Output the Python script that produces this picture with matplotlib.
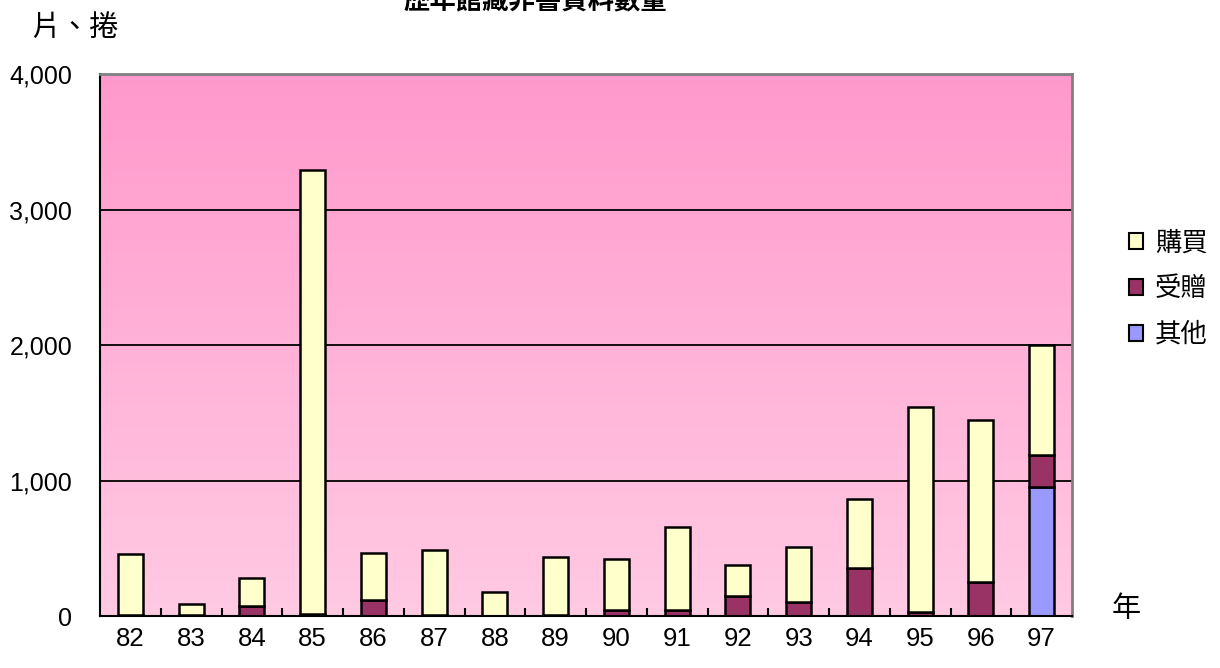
import numpy as np
import matplotlib.pyplot as plt
from matplotlib.colors import LinearSegmentedColormap
from matplotlib.patches import Patch

plt.rcParams['font.family'] = ['Liberation Sans', 'Noto Sans CJK TC', 'DejaVu Sans']

# 資料
years = ['82', '83', '84', '85', '86', '87', '88', '89',
         '90', '91', '92', '93', '94', '95', '96', '97']
totals = [460, 90, 280, 3290, 465, 490, 180, 435,
          420, 660, 375, 510, 865, 1545, 1445, 2000]
gifts = [10, 5, 75, 15, 115, 10, 0, 10,
         45, 45, 145, 100, 355, 30, 250, 240]
others = [0, 0, 0, 0, 0, 0, 0, 0,
          0, 0, 0, 0, 0, 0, 0, 950]
purchase = [t - g - o for t, g, o in zip(totals, gifts, others)]

fig = plt.figure(figsize=(12.2, 6.68), dpi=100)
ax = fig.add_axes([100 / 1220, 1 - 616 / 668, 972 / 1220, 542 / 668])

x = np.arange(len(years))
ax.set_xlim(-0.5, len(years) - 0.5)
ax.set_ylim(0, 4000)

# 背景漸層
cmap = LinearSegmentedColormap.from_list('bg', ['#FFCAE3', '#FF99CC'])
grad = np.linspace(0, 1, 256).reshape(-1, 1)
ax.imshow(grad, cmap=cmap, aspect='auto', origin='lower',
          extent=[-0.5, len(years) - 0.5, 0, 4000], zorder=0)

for y in [1000, 2000, 3000]:
    ax.axhline(y, color='black', lw=1.3, zorder=1)

w = 0.41
kw = dict(width=w, edgecolor='black', linewidth=1.8, zorder=2)
ax.bar(x, others, color='#9999FF', **kw)
ax.bar(x, gifts, bottom=others, color='#993366', **kw)
bottoms = [g + o for g, o in zip(gifts, others)]
ax.bar(x, purchase, bottom=bottoms, color='#FFFFCC', **kw)

# 軸
ax.spines['left'].set_color('black')
ax.spines['left'].set_linewidth(1.5)
ax.spines['bottom'].set_color('black')
ax.spines['bottom'].set_linewidth(1.5)
ax.spines['top'].set_color('#808080')
ax.spines['top'].set_linewidth(2)
ax.spines['right'].set_color('#808080')
ax.spines['right'].set_linewidth(2)

ax.set_xticks(x)
ax.set_xticklabels(years, fontsize=18.5)
ax.set_xticks(np.arange(0.5, len(years) - 0.5, 1), minor=True)
ax.tick_params(axis='x', which='major', length=0, pad=8)
ax.tick_params(axis='x', which='minor', direction='in', length=6, width=1.5)
ax.set_yticks([0, 1000, 2000, 3000, 4000])
ax.set_yticklabels(['0', '1,000', '2,000', '3,000', '4,000'], fontsize=18)
ax.tick_params(axis='y', length=0, pad=20)

fig.text(75 / 1220, 1 - 28 / 668, '片、捲', fontsize=21, ha='center', va='center')
fig.text(1126 / 1220, 1 - 609 / 668, '年', fontsize=21, ha='center', va='center')
fig.text(535 / 1220, 1 - 2 / 668, '歷年館藏非書資料數量', fontsize=19,
         fontweight='bold', ha='center', va='center')

handles = [Patch(facecolor='#FFFFCC', edgecolor='black', lw=1.5),
           Patch(facecolor='#993366', edgecolor='black', lw=1.5),
           Patch(facecolor='#9999FF', edgecolor='black', lw=1.5)]
fig.legend(handles, ['購買', '受贈', '其他'], loc='center left',
           bbox_to_anchor=(1105 / 1220, 1 - 289 / 668), frameon=False,
           fontsize=19, handlelength=0.55, handleheight=0.55,
           handletextpad=0.45, labelspacing=0.8)

fig.savefig('out.png', dpi=100)
